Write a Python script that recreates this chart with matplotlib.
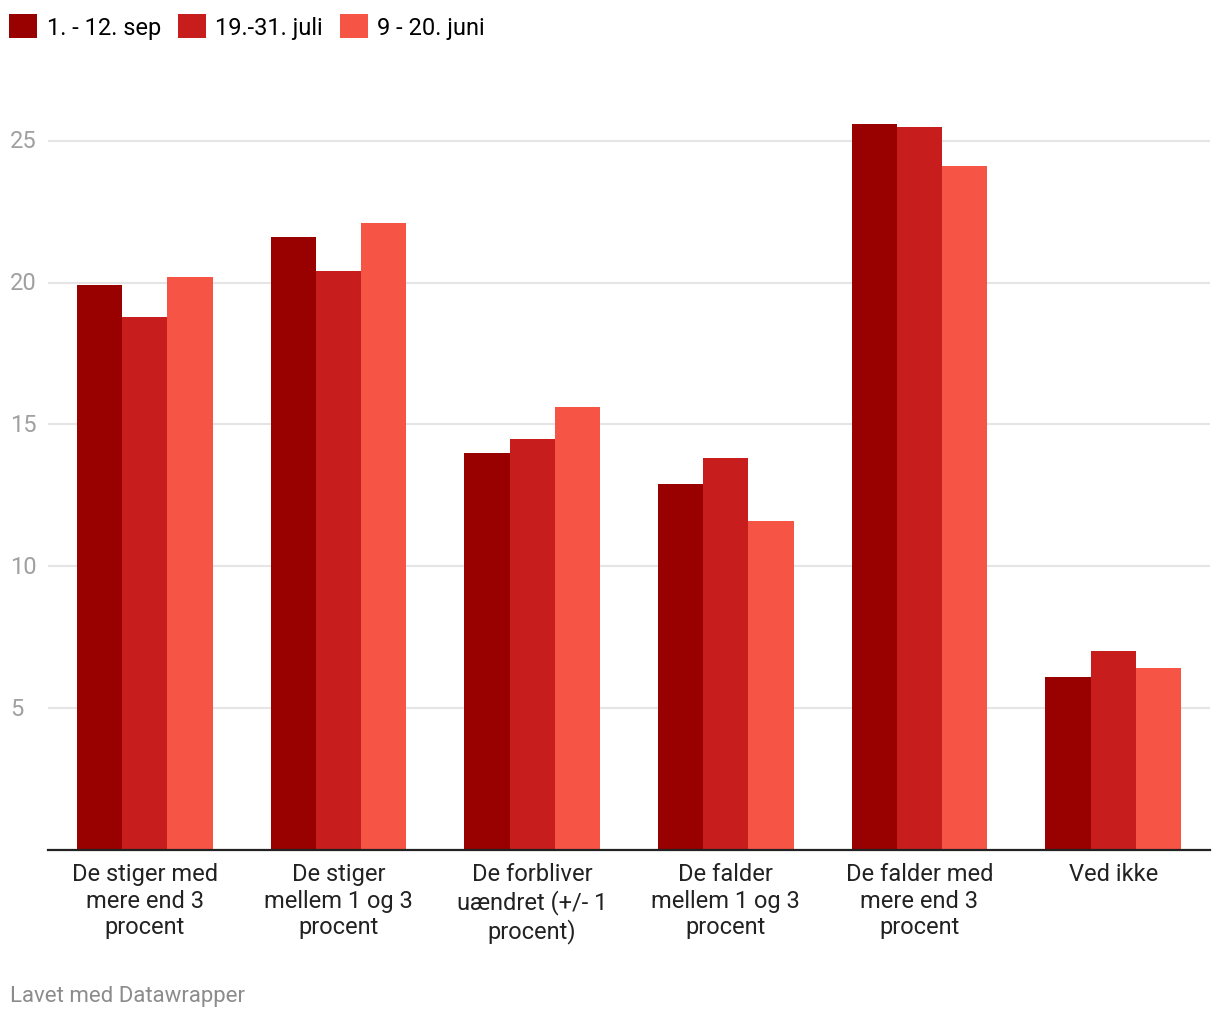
import numpy as np
import matplotlib
matplotlib.use('Agg')
import matplotlib.pyplot as plt
from matplotlib.patches import Patch
import matplotlib.transforms as mtransforms

categories = ['De stiger med\nmere end 3\nprocent',
              'De stiger\nmellem 1 og 3\nprocent',
              'De forbliver\nuændret (+/- 1\nprocent)',
              'De falder\nmellem 1 og 3\nprocent',
              'De falder med\nmere end 3\nprocent',
              'Ved ikke']
series = ['1. - 12. sep', '19.-31. juli', '9 - 20. juni']
sep_vals = [19.9, 21.6, 14.0, 12.9, 25.6, 6.1]
jul_vals = [18.8, 20.4, 14.5, 13.8, 25.5, 7.0]
jun_vals = [20.2, 22.1, 15.6, 11.6, 24.1, 6.4]
yticks = [5, 10, 15, 20, 25]
colors = ['#990000', '#c71e1d', '#f65545']

plt.rcParams['font.family'] = ['Roboto', 'DejaVu Sans']

fig = plt.figure(figsize=(12.2, 10.2), dpi=100)
ax = fig.add_axes([48 / 1220, 169 / 1020, 1162 / 1220, 766 / 1020])

x = np.arange(len(categories))
w = 0.234
for i, vals in enumerate([sep_vals, jul_vals, jun_vals]):
    ax.bar(x + (i - 1) * w, vals, width=w, color=colors[i], zorder=3, linewidth=0)

ax.set_xlim(-0.5, len(categories) - 0.5)
ax.set_ylim(0, 27)
ax.set_xticks(x)
ax.set_xticklabels(categories, fontsize=17, color='#222222', linespacing=1.19)
ax.tick_params(axis='x', length=0, pad=9)
ax.set_yticks(yticks)
ax.set_yticklabels([])
ax.tick_params(axis='y', length=0)
ax.grid(axis='y', color='#e5e5e5', linewidth=1.5, zorder=0)

trans = mtransforms.blended_transform_factory(fig.transFigure, ax.transData)
for t in yticks:
    ax.text(10 / 1220, t, str(t), transform=trans, ha='left', va='center',
            fontsize=17, color='#a0a0a0')

for s in ['top', 'right', 'left']:
    ax.spines[s].set_visible(False)
ax.spines['bottom'].set_color('#222222')
ax.spines['bottom'].set_linewidth(1.6)
ax.spines['bottom'].set_zorder(4)

handles = [Patch(facecolor=c, edgecolor='none') for c in colors]
fig.legend(handles, series, loc='upper left', bbox_to_anchor=(2 / 1220, 1 - 8 / 1020),
           ncol=3, frameon=False, fontsize=17, handlelength=1.2, handleheight=1.2,
           handletextpad=0.4, columnspacing=0.7, borderaxespad=0, borderpad=0.3)

fig.text(10 / 1220, 1 - 997 / 1020, 'Lavet med Datawrapper', ha='left', va='center',
         fontsize=16, color='#8c8c8c')

fig.savefig('out.png', dpi=100)
